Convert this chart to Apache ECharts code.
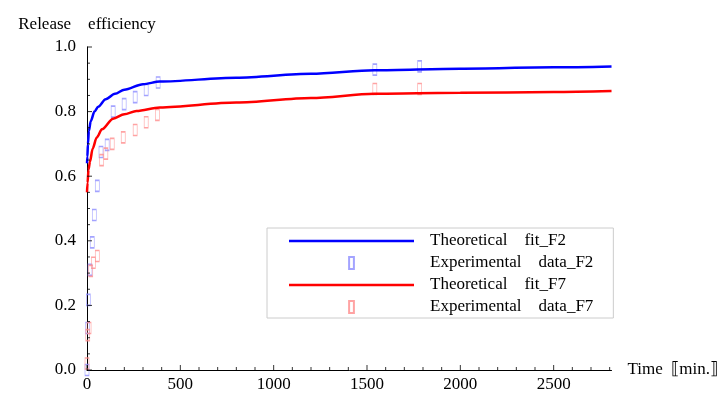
<!DOCTYPE html>
<html>
<head>
<meta charset="utf-8">
<script src="https://cdn.jsdelivr.net/npm/echarts@6/dist/echarts.min.js"></script>
<style>
  html, body { margin: 0; padding: 0; background: #fff; }
  #chart { width: 721px; height: 394px; }
</style>
</head>
<body>
<div id="chart"></div>
<script>
// Theoretical fits (time in min, release efficiency)
const fitTimeF2 = [0, 2, 5, 10, 20, 40, 60, 100, 150, 200, 300, 390, 800, 1200, 1540, 2000, 2500, 2810];
const fitF2 = [0.64, 0.66, 0.70, 0.74, 0.77, 0.80, 0.815, 0.838, 0.855, 0.868, 0.885, 0.893, 0.905, 0.917, 0.928, 0.933, 0.937, 0.94];
const fitTimeF7 = [0, 3, 8, 16, 30, 52, 80, 140, 200, 265, 390, 800, 1200, 1540, 2000, 2500, 2810];
const fitF7 = [0.55, 0.58, 0.62, 0.645, 0.685, 0.72, 0.745, 0.778, 0.792, 0.802, 0.813, 0.828, 0.842, 0.855, 0.858, 0.861, 0.864];

// Experimental points
const expTimeF2 = [0, 3, 7, 16, 28, 39, 55, 75, 108, 140, 199, 258, 317, 381, 1542, 1782];
const expF2 = [0.0, 0.13, 0.217, 0.31, 0.395, 0.48, 0.57, 0.675, 0.697, 0.80, 0.823, 0.845, 0.867, 0.89, 0.93, 0.94];
const expTimeF7 = [0, 4, 11, 20, 34, 55, 78, 101, 135, 194, 258, 317, 377, 1542, 1782];
const expF7 = [0.02, 0.108, 0.13, 0.307, 0.332, 0.353, 0.65, 0.67, 0.70, 0.72, 0.743, 0.767, 0.79, 0.87, 0.87];

// Tick positions
const xMajorTicks = [0, 500, 1000, 1500, 2000, 2500];
const xMinorTicks = [100, 200, 300, 400, 600, 700, 800, 900, 1100, 1200, 1300, 1400,
  1600, 1700, 1800, 1900, 2100, 2200, 2300, 2400, 2600, 2700, 2800];
const yMajorTicks = [0, 0.2, 0.4, 0.6, 0.8, 1.0];
const yMinorTicks = [0.05, 0.1, 0.15, 0.25, 0.3, 0.35, 0.45, 0.5, 0.55, 0.65, 0.7, 0.75, 0.85, 0.9, 0.95];

const seriesNames = [
  'Theoretical    fit_F2',
  'Experimental    data_F2',
  'Theoretical    fit_F7',
  'Experimental    data_F7',
];

const zip = (xs, ys) => xs.map((x, i) => [x, ys[i]]);
const serif = "'Liberation Serif', 'DejaVu Serif', serif";
// legend icons: a thin bar for the fits, a small box for the data
const lineIcon = 'path://M0,0 L125,0 L125,2.5 L0,2.5 Z';
const boxIcon = 'path://M0,0 L4,0 L4,10 L0,10 Z';

const chart = echarts.init(document.getElementById('chart'));

const axisCommon = {
  axisLine: { show: true, lineStyle: { color: '#000', width: 1 } },
  axisTick: { show: false },
  splitLine: { show: false },
  axisLabel: { color: '#000', fontFamily: serif, fontSize: 17 },
  nameTextStyle: { color: '#000', fontFamily: serif, fontSize: 17 },
};

// inward tick marks, placed by the axes' own scale
function ticks(values, horizontal, len) {
  return {
    type: 'scatter',
    silent: true,
    clip: false,
    z: 5,
    symbol: 'rect',
    symbolSize: horizontal ? [1, len] : [len, 1],
    symbolOffset: horizontal ? [0, -len / 2] : [len / 2, 0],
    itemStyle: { color: '#000' },
    data: values.map(v => (horizontal ? [v, 0] : [0, v])),
  };
}

chart.setOption({
  animation: false,
  grid: { left: 87, right: 107, top: 47, bottom: 24 },
  xAxis: {
    ...axisCommon,
    type: 'value',
    min: 0,
    max: 2810,
    interval: 500,
    axisLabel: { ...axisCommon.axisLabel, margin: 6, showMaxLabel: false, formatter: v => String(v) },
    name: 'Time  ⟦min.⟧',
    nameLocation: 'end',
    nameGap: 16,
  },
  yAxis: {
    ...axisCommon,
    type: 'value',
    min: 0,
    max: 1,
    interval: 0.2,
    axisLabel: { ...axisCommon.axisLabel, margin: 11, formatter: v => v.toFixed(1) },
    name: 'Release    efficiency',
    nameLocation: 'end',
    nameGap: 14,
  },
  legend: {
    orient: 'vertical',
    left: 267,
    top: 228,
    padding: [3, 20, 1, 22],
    borderColor: '#cccccc',
    borderWidth: 1,
    itemWidth: 125,
    itemHeight: 12,
    itemGap: 2,
    selectedMode: false,
    textStyle: { color: '#000', fontFamily: serif, fontSize: 17, lineHeight: 20, padding: [0, 0, 0, 11] },
    data: [
      { name: seriesNames[0], icon: lineIcon },
      { name: seriesNames[1], icon: boxIcon },
      { name: seriesNames[2], icon: lineIcon },
      { name: seriesNames[3], icon: boxIcon },
    ],
  },
  series: [
    {
      name: seriesNames[0],
      type: 'line',
      data: zip(fitTimeF2, fitF2),
      showSymbol: false,
      symbol: 'none',
      smooth: 0.3,
      smoothMonotone: 'x',
      lineStyle: { color: '#0000ff', width: 2.5 },
      itemStyle: { color: '#0000ff' },
      z: 3,
    },
    {
      name: seriesNames[1],
      type: 'scatter',
      data: zip(expTimeF2, expF2),
      symbol: 'rect',
      symbolSize: [4, 11],
      itemStyle: { color: 'rgba(0,0,0,0)', borderColor: '#8c8cff', borderWidth: 1 },
      z: 2,
    },
    {
      name: seriesNames[2],
      type: 'line',
      data: zip(fitTimeF7, fitF7),
      showSymbol: false,
      symbol: 'none',
      smooth: 0.3,
      smoothMonotone: 'x',
      lineStyle: { color: '#ff0000', width: 2.5 },
      itemStyle: { color: '#ff0000' },
      z: 3,
    },
    {
      name: seriesNames[3],
      type: 'scatter',
      data: zip(expTimeF7, expF7),
      symbol: 'rect',
      symbolSize: [4, 11],
      itemStyle: { color: 'rgba(0,0,0,0)', borderColor: '#ff8c8c', borderWidth: 1 },
      z: 2,
    },
    ticks(xMajorTicks, true, 5),
    ticks(xMinorTicks, true, 3),
    ticks(yMajorTicks, false, 5),
    ticks(yMinorTicks, false, 3),
  ],
});
</script>
</body>
</html>
